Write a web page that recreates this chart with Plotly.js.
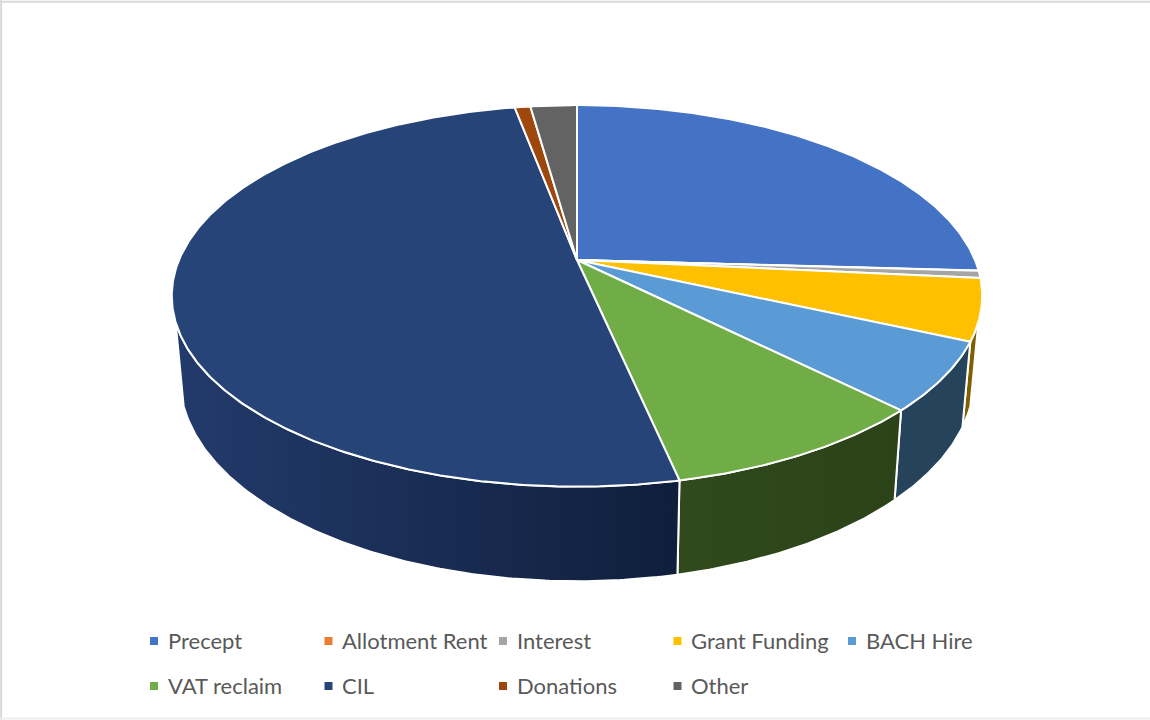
<!DOCTYPE html>
<html>
<head>
<meta charset="utf-8">
<script src="https://cdn.plot.ly/plotly-3.0.1.min.js"></script>
<style>html,body{margin:0;padding:0;background:#fff}#chart{width:1150px;height:720px}</style>
</head>
<body>
<div id="chart"></div>
<script>
// Data (share of income, %)
const categories = ["Precept","Allotment Rent","Interest","Grant Funding","BACH Hire","VAT reclaim","CIL","Donations","Other"];
const values     = [25.9, 0.03, 0.6, 5.2, 5.8, 9.1, 50.4, 0.75, 2.22];
const topColors  = ["#4472C4","#ED7D31","#A5A5A5","#FFC000","#5B9BD5","#70AD47","#264478","#9E480E","#636363"];
const wallStart  = ["#2F4F89","#A5561F","#737373","#7F6000","#25435B","#2F4A1C","#233B6C","#6E3209","#454545"];
const wallEnd    = ["#2F4F89","#A5561F","#737373","#7F6000","#25435B","#2C4218","#0F1E3B","#6E3209","#454545"];

// Perspective disc: centre, radii, foreshortening, and the thickness mapping
const view = {cx:577, cy:260, A:398, B:184, k:0.188, wallX:0.98, wallY:1.064, wallOff:63.5, frontFrom:108.5, frontTo:251.5};
const rad = d => d*Math.PI/180;
function rim(deg){
  const X=Math.sin(rad(deg)), Y=Math.cos(rad(deg)), w=1+view.k*Y;
  return [view.cx+view.A*X/w, view.cy-view.B*Y/w];
}
const lower = p => [view.cx+(p[0]-view.cx)*view.wallX, view.wallY*p[1]+view.wallOff];
function arc(a,b){
  const n=Math.max(2,Math.ceil((b-a)/0.5)), out=[];
  for(let i=0;i<=n;i++) out.push(rim(a+(b-a)*i/n));
  return out;
}
const total = values.reduce((s,v)=>s+v,0);
let run=0;
const spans = values.map(v=>{const a=run/total*360; run+=v; return [a,run/total*360];});

const traces=[];
const edge={color:"#ffffff",width:2};
// Side walls, only on the front-facing part of the rim
spans.forEach((s,i)=>{
  const a=Math.max(s[0],view.frontFrom), b=Math.min(s[1],view.frontTo);
  if(b<=a) return;
  const up=arc(a,b), down=up.map(lower).reverse(), poly=up.concat(down,[up[0]]);
  traces.push({type:"scatter",mode:"lines",x:poly.map(p=>p[0]),y:poly.map(p=>p[1]),fill:"toself",
    fillgradient:{type:"horizontal",colorscale:[[0,wallStart[i]],[1,wallEnd[i]]]},
    line:edge,hoverinfo:"skip",showlegend:false});
});
// Top face
spans.forEach((s,i)=>{
  const poly=[[view.cx,view.cy]].concat(arc(s[0],s[1]),[[view.cx,view.cy]]);
  traces.push({type:"scatter",mode:"lines",x:poly.map(p=>p[0]),y:poly.map(p=>p[1]),fill:"toself",
    fillcolor:topColors[i],line:edge,name:categories[i],text:values[i]+"%",hoverinfo:"name+text",hoveron:"fills",showlegend:false});
});
// Legend grid
const legend={left:154,colStep:174.5,rows:[641,686],perRow:5,gap:12.5};
const cell = i => { const r=i<legend.perRow?0:1, c=r?i-legend.perRow:i; return [legend.left+c*legend.colStep, legend.rows[r]]; };
traces.push({type:"scatter",mode:"markers",x:categories.map((_,i)=>cell(i)[0]),y:categories.map((_,i)=>cell(i)[1]),
  marker:{symbol:"square",size:8,color:topColors},hoverinfo:"skip",showlegend:false});
const annotations=categories.map((c,i)=>({text:c,x:cell(i)[0]+legend.gap,y:cell(i)[1],xref:"x",yref:"y",xanchor:"left",yanchor:"middle",
  showarrow:false,yshift:1,borderpad:0,font:{family:"Lato, 'Open Sans', sans-serif",size:22,color:"#595959"}}));

const frame="#D9D9D9";
const layout={width:1150,height:720,margin:{l:0,r:0,t:0,b:0},paper_bgcolor:"#fff",plot_bgcolor:"#fff",showlegend:false,
  xaxis:{range:[0,1150],visible:false,fixedrange:true},
  yaxis:{range:[720,0],visible:false,fixedrange:true},
  annotations,
  shapes:[
    {type:"line",xref:"paper",yref:"paper",x0:0,x1:1,y0:0.9975,y1:0.9975,line:{color:frame,width:2}},
    {type:"line",xref:"paper",yref:"paper",x0:0.001,x1:0.001,y0:0,y1:1,line:{color:frame,width:2}},
    {type:"line",xref:"paper",yref:"paper",x0:0,x1:1,y0:0.002,y1:0.002,line:{color:"#EDEDED",width:2}}
  ]};
Plotly.newPlot("chart",traces,layout,{displayModeBar:false});
</script>
</body>
</html>
